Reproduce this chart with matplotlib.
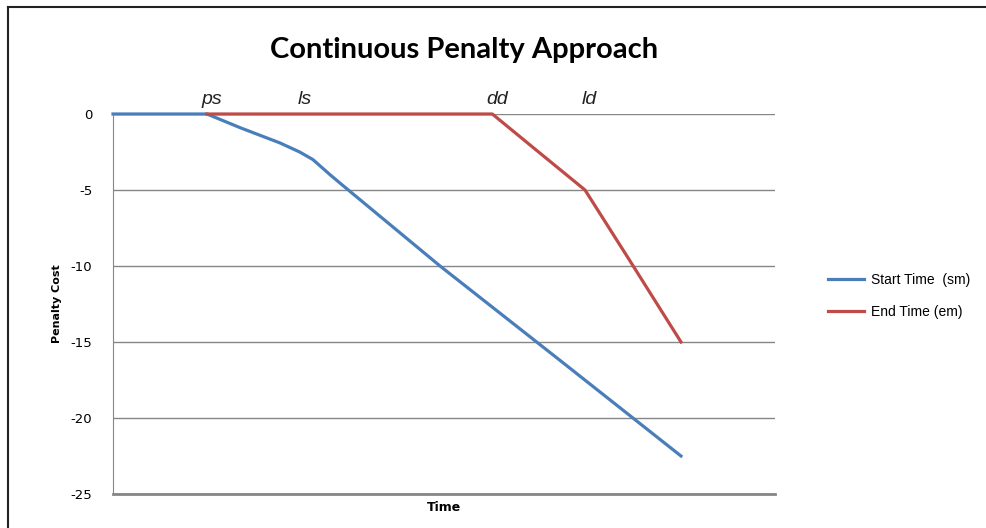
import matplotlib.pyplot as plt
from matplotlib.lines import Line2D

plt.rcParams['axes.unicode_minus'] = False

# time axis runs 0..100 (arbitrary units)
start_t = [0, 14.2, 19.2, 25.2, 28.2, 30.2, 32.8, 34.3, 49.4, 67.5, 85.8]
start_cost = [0, 0, -0.9, -1.9, -2.5, -3.0, -4.0, -4.55, -10, -16.2, -22.5]

end_t = [14.2, 57.3, 63.0, 71.3, 78.0, 85.8]
end_cost = [0, 0, -2.04, -5, -9.6, -15]

marks = ['ps', 'ls', 'dd', 'ld']
mark_t = [14.2, 28.2, 57.3, 71.3]

blue = '#4A7EBB'
red = '#BE4B48'
grid_c = '#868686'

fig = plt.figure(figsize=(9.86, 5.28), dpi=100)
ax = fig.add_axes([113/986, 1-494/528, 662/986, 380/528])

ax.plot(start_t, start_cost, color=blue, lw=2.3, label='Start Time  (sm)', clip_on=False, zorder=3)
ax.plot(end_t, end_cost, color=red, lw=2.3, label='End Time (em)', clip_on=False, zorder=4)

ax.set_xlim(0, 100)
ax.set_ylim(-25, 0)
ax.set_yticks([0, -5, -10, -15, -20, -25])
ax.set_xticks([])
ax.yaxis.grid(True, color=grid_c, lw=1)
ax.set_axisbelow(True)
ax.tick_params(axis='y', length=0, pad=15, labelsize=9.5)

for s in ['top', 'right']:
    ax.spines[s].set_visible(False)
ax.spines['left'].set_color(grid_c)
ax.spines['bottom'].set_color(grid_c)
ax.spines['bottom'].set_linewidth(2)

ax.set_ylabel('Penalty Cost', fontsize=8, fontweight='bold', labelpad=6)
ax.set_xlabel('Time', fontsize=9, fontweight='bold', labelpad=5)

for m, t in zip(marks, mark_t):
    ax.text(t + 0.7, 0.65, m, fontsize=14, style='italic', ha='center', va='baseline',
            family='Liberation Sans', color='#222222')

fig.text(464/986, 1-50/528, 'Continuous Penalty Approach', fontsize=21, fontweight='bold',
         family='Lato', ha='center', va='center')

fig.legend(loc='center left', bbox_to_anchor=(815/986, 1-296/528), frameon=False,
           prop={'family': 'Liberation Sans', 'size': 10}, handlelength=2.6,
           labelspacing=1.3, handletextpad=0.5)

# outer frame (left and top edges)
fig.add_artist(Line2D([8/986, 8/986], [0, 1-7/528], color='#222222', lw=1.5,
                      transform=fig.transFigure))
fig.add_artist(Line2D([8/986, 1], [1-7/528, 1-7/528], color='#222222', lw=1.5,
                      transform=fig.transFigure))

fig.savefig('out.png', dpi=100)
